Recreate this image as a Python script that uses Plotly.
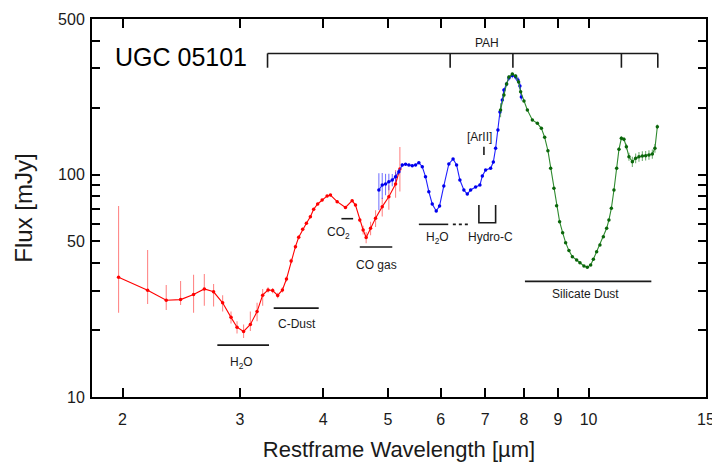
import math
import plotly.graph_objects as go

# ---------------- data ----------------
red_wl = [1.973, 2.181, 2.326, 2.444, 2.556, 2.653, 2.739, 2.826, 2.909, 2.970,
          3.038, 3.110, 3.183, 3.245, 3.306, 3.359, 3.418, 3.474, 3.523, 3.580,
          3.634, 3.675, 3.726, 3.774, 3.826, 3.870, 3.924, 3.985, 4.054, 4.101,
          4.197, 4.319, 4.420, 4.471, 4.538, 4.591, 4.639, 4.710, 4.792, 4.904,
          5.017, 5.135, 5.212]
red_flux = [34.5, 30.2, 27.2, 27.4, 28.9, 30.6, 29.7, 26.5, 22.8, 20.6,
            19.7, 21.2, 24.2, 28.7, 30.3, 30.1, 28.6, 30.3, 33.9, 40.9,
            47.4, 52.2, 56.7, 60.4, 64.6, 69.8, 73.7, 76.8, 80.1, 80.8,
            75.5, 71.1, 76.3, 72.9, 62.5, 56.3, 52.1, 57.3, 63.6, 71.7,
            79.5, 90.7, 105.9]
red_err_up = [37.7, 15.6, 4.7, 5.8, 6.5, 5.1, 2.5, 2.2, 1.4, 1.3,
              1.5, 3.0, 2.3, 1.9, 0.8, 0.8, 0.8, 0.8, 0.9, 1.0,
              1.0, 1.0, 1.0, 1.0, 1.0, 1.0, 1.0, 1.0, 1.0, 1.0,
              1.0, 1.0, 1.0, 1.0, 1.5, 2.5, 3.0, 4.0, 5.5, 7.0,
              10.0, 14.0, 27.0]
red_err_dn = [10.6, 4.0, 2.6, 1.5, 5.0, 4.9, 4.2, 2.3, 1.4, 1.3,
              1.3, 1.4, 2.3, 3.0, 0.8, 0.8, 0.8, 0.8, 0.9, 1.0,
              1.0, 1.0, 1.0, 1.0, 1.0, 1.0, 1.0, 1.0, 1.0, 1.0,
              1.0, 1.0, 1.0, 1.0, 1.5, 2.5, 3.0, 4.0, 5.5, 7.0,
              10.0, 12.0, 22.0]

blue_wl = [4.847, 4.904, 4.960, 5.017, 5.077, 5.135, 5.194, 5.255, 5.315, 5.376,
           5.439, 5.502, 5.565, 5.631, 5.694, 5.760, 5.828, 5.909, 5.977, 6.066,
           6.172, 6.263, 6.339, 6.412, 6.501, 6.578, 6.654, 6.770, 6.871, 6.929,
           7.008, 7.130, 7.197, 7.254, 7.312, 7.363, 7.424, 7.465, 7.534, 7.595,
           7.685, 7.773, 7.835, 7.889, 7.928]
blue_flux = [85.2, 89.7, 90.7, 92.9, 94.5, 97.8, 103.0, 110.4, 111.2, 110.4,
             109.6, 110.4, 113.0, 108.4, 97.8, 83.7, 73.7, 68.6, 72.2, 88.8,
             111.5, 117.4, 110.4, 94.5, 85.2, 81.7, 85.2, 87.9, 89.7, 98.5,
             104.8, 106.7, 113.8, 131.2, 158.5, 191.0, 216.2, 239.8, 255.2, 271.5,
             278.6, 274.4, 266.0, 250.0, 223.0]
blue_err = [16.0, 12.0, 10.0, 8.0, 6.0, 5.0, 3.0, 2.0, 1.5, 1.5,
            1.5, 1.5, 1.5, 1.5, 1.2, 1.0, 1.0, 1.0, 1.0, 1.0,
            1.2, 1.2, 1.2, 1.0, 1.0, 1.0, 1.0, 1.0, 1.0, 1.2,
            1.2, 1.2, 1.5, 2.0, 2.5, 3.0, 4.0, 5.0, 6.0, 7.0,
            8.0, 8.0, 8.0, 8.0, 8.0]

green_wl = [7.379, 7.465, 7.534, 7.595, 7.685, 7.773, 7.854, 7.909, 8.000, 8.094,
            8.235, 8.379, 8.496, 8.593, 8.690, 8.772, 8.872, 8.955, 9.048, 9.143,
            9.238, 9.344, 9.455, 9.596, 9.706, 9.841, 9.957, 10.072, 10.166, 10.283,
            10.400, 10.523, 10.644, 10.728, 10.818, 10.916, 11.018, 11.106, 11.198, 11.299,
            11.394, 11.496, 11.632, 11.765, 11.900, 12.040, 12.178, 12.318, 12.463, 12.575,
            12.680]
green_flux = [195.0, 227.8, 255.2, 274.4, 283.0, 277.2, 260.5, 235.6, 214.0, 195.0,
              175.9, 169.9, 161.3, 147.0, 127.9, 106.7, 86.7, 72.4, 61.4, 54.8,
              49.4, 45.5, 42.7, 41.3, 40.1, 38.8, 38.3, 39.2, 41.6, 45.0,
              48.2, 52.5, 57.3, 62.5, 70.5, 85.2, 106.7, 129.8, 145.5, 144.0,
              133.4, 120.2, 114.2, 118.3, 120.2, 121.1, 121.5, 122.4, 123.7, 131.2,
              164.0]
green_err = [14.0, 6.0, 5.0, 4.0, 3.0, 3.0, 2.5, 2.0, 1.5, 1.5,
             1.2, 1.2, 1.2, 1.0, 1.0, 0.8, 0.6, 0.5, 0.4, 0.4,
             0.4, 0.4, 0.4, 0.4, 0.4, 0.4, 0.4, 0.4, 0.4, 0.4,
             0.5, 0.5, 0.6, 0.6, 0.7, 1.0, 1.5, 2.0, 3.0, 3.0,
             4.0, 5.0, 6.0, 6.0, 6.0, 6.0, 6.0, 6.0, 6.0, 6.0,
             4.0]

x_tickvals = [2, 3, 4, 5, 6, 7, 8, 9, 10, 15]
x_minor = [11, 12, 13, 14]
y_tickvals = [10, 50, 100, 500]
y_minor = [20, 30, 40, 60, 70, 80, 90, 200, 300, 400]

# spectral features: label, wavelength range, flux level of bar, label position
bar_features = [
    ("H<sub>2</sub>O", 2.775, 3.317, 17.1, 3.02, 14.2),
    ("C-Dust", 3.371, 3.938, 25.1, 3.65, 21.2),
    ("CO<sub>2</sub>", 4.259, 4.435, 63.3, 4.22, 54.4),
    ("CO gas", 4.538, 5.077, 47.2, 4.81, 39.2),
    ("H<sub>2</sub>O", 5.565, 6.159, 59.7, 5.93, 51.7),
    ("Silicate Dust", 8.027, 12.42, 33.1, 9.9, 29.0),
]
h2o_dotted = (6.258, 6.654, 59.7)
hydroc = ("Hydro-C", 6.847, 7.254, 72.9, 60.7, 7.13, 52.5)
arii = ("[ArII]", 6.967, 122.4, 133.4, 6.85, 148.0)
pah_bands = [3.3, 6.2, 7.7, 11.2, 12.7]
pah_level = (350.0, 302.0, 7.05, 392.0)

FONT = "Liberation Sans, Arial, Helvetica, sans-serif"
INK = "#1a1a1a"

fig = go.Figure()

series = [
    (red_wl, red_flux, red_err_up, red_err_dn, "#ff0000", "#ff0000", "rgba(255,40,40,0.55)"),
    (blue_wl, blue_flux, blue_err, blue_err, "#2020ff", "#0000ee", "rgba(30,30,255,0.6)"),
    (green_wl, green_flux, green_err, green_err, "#2f8a2f", "#0a660a", "rgba(20,120,20,0.6)"),
]
for wl, fl, eu, ed, lc, mc, ec in series:
    fig.add_trace(go.Scatter(
        x=wl, y=fl, mode="lines+markers",
        line=dict(color=lc, width=1.1),
        marker=dict(size=3.5, color=mc),
        error_y=dict(type="data", symmetric=False, array=eu, arrayminus=ed,
                     color=ec, thickness=1.1, width=0),
        showlegend=False, hoverinfo="x+y"))

line_style = dict(color=INK, width=1.6)

def add_line(xs, ys, dash=None):
    st = dict(line_style)
    if dash:
        st["dash"] = dash
    fig.add_trace(go.Scatter(x=xs, y=ys, mode="lines", line=st,
                             showlegend=False, hoverinfo="skip"))

def add_label(text, x, y, size=12):
    fig.add_annotation(x=math.log10(x), y=math.log10(y), xref="x", yref="y",
                       text=text, showarrow=False,
                       font=dict(family=FONT, size=size, color=INK))

for lab, x0, x1, yl, lx, ly in bar_features:
    add_line([x0, x1], [yl, yl])
    add_label(lab, lx, ly)

add_line([h2o_dotted[0], h2o_dotted[1]], [h2o_dotted[2], h2o_dotted[2]], dash="dot")

lab, hx0, hx1, hy_top, hy_bot, hlx, hly = hydroc
add_line([hx0, hx0, hx1, hx1], [hy_top, hy_bot, hy_bot, hy_top])
add_label(lab, hlx, hly)

lab, ax_, ay0, ay1, alx, aly = arii
add_line([ax_, ax_], [ay0, ay1])
add_label(lab, alx, aly)

top, tick_bot, plx, ply = pah_level
add_line([pah_bands[0], pah_bands[-1]], [top, top])
for b in pah_bands:
    add_line([b, b], [top, tick_bot])
add_label("PAH", plx, ply)

fig.add_annotation(x=0.034, y=0.9, xref="paper", yref="paper", xanchor="left",
                   yanchor="middle", text="UGC 05101", showarrow=False,
                   font=dict(family=FONT, size=25, color="#000000"))

xr = [math.log10(1.8), math.log10(15)]
yr = [1.0, math.log10(500)]

# the page body adds an 8px margin, so the figure is sized to fit the window
fig.update_layout(
    width=712, height=454,
    margin=dict(l=84, r=14, t=11, b=65, autoexpand=False),
    paper_bgcolor="white", plot_bgcolor="white",
    font=dict(family=FONT, color=INK),
    xaxis=dict(type="log", range=xr, tickmode="array", tickvals=x_tickvals,
               ticktext=[str(v) for v in x_tickvals], automargin=False,
               ticks="inside", ticklen=9, tickwidth=1.5, tickcolor="#000",
               ticklabelstandoff=7,
               showline=True, linewidth=2, linecolor="#000", mirror="allticks",
               showgrid=False, zeroline=False,
               tickfont=dict(family=FONT, size=16, color=INK),
               title=dict(text="Restframe Wavelength [µm]", standoff=14,
                          font=dict(family=FONT, size=22, color=INK))),
    yaxis=dict(type="log", range=yr, tickmode="array", tickvals=y_tickvals,
               ticktext=[str(v) for v in y_tickvals], automargin=False,
               ticks="inside", ticklen=8, tickwidth=1.5, tickcolor="#000",
               ticklabelstandoff=2,
               showline=True, linewidth=2, linecolor="#000", mirror="allticks",
               showgrid=False, zeroline=False,
               minor=dict(tickmode="array", tickvals=y_minor, ticks="inside",
                          ticklen=8, tickwidth=1.5, tickcolor="#000", showgrid=False),
               tickfont=dict(family=FONT, size=16, color=INK),
               title=dict(text="Flux [mJy]", standoff=19,
                          font=dict(family=FONT, size=24, color=INK))),
    xaxis2=dict(type="log", range=xr, overlaying="x", side="bottom",
                tickmode="array", tickvals=[10], ticks="inside", ticklen=18,
                tickwidth=1.5, tickcolor="#000", showticklabels=False, automargin=False,
                showline=False, mirror="ticks", showgrid=False, zeroline=False),
    xaxis3=dict(type="log", range=xr, overlaying="x", side="bottom",
                tickmode="array", tickvals=x_minor, ticks="inside", ticklen=9,
                tickwidth=1.5, tickcolor="#000", showticklabels=False, automargin=False,
                showline=False, mirror=False, showgrid=False, zeroline=False),
    yaxis2=dict(type="log", range=yr, overlaying="y", side="left",
                tickmode="array", tickvals=[100], ticks="inside", ticklen=16,
                tickwidth=1.5, tickcolor="#000", showticklabels=False, automargin=False,
                showline=False, mirror="ticks", showgrid=False, zeroline=False),
)

fig.write_html("out.html")
